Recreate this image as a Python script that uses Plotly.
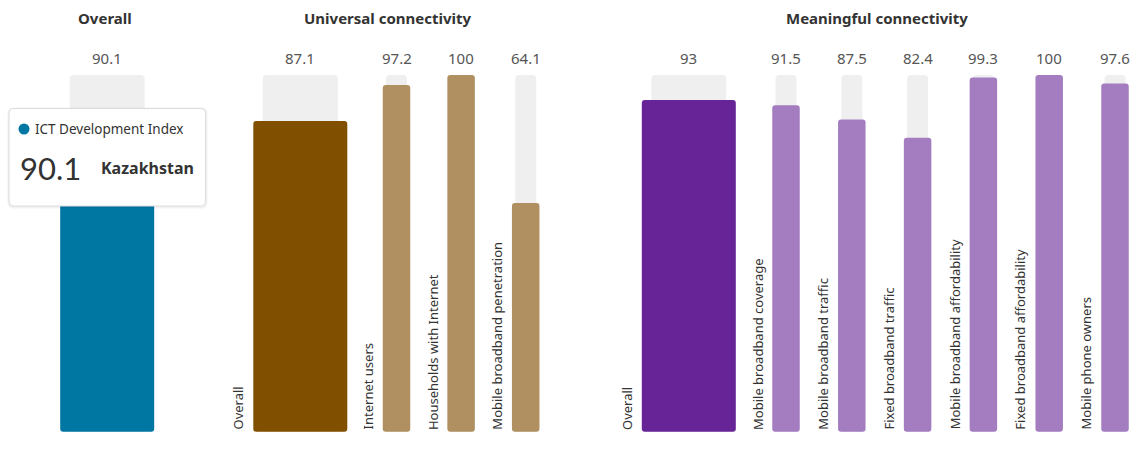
import plotly.graph_objects as go

# ---- data -------------------------------------------------------------
group_titles = ["Overall", "Universal connectivity", "Meaningful connectivity"]

index_name = "ICT Development Index"
country = "Kazakhstan"
overall_value = [90.1]

universal_labels = ["Overall", "Internet users", "Households with Internet",
                    "Mobile broadband penetration"]
universal_values = [87.1, 97.2, 100, 64.1]

meaningful_labels = ["Overall", "Mobile broadband coverage", "Mobile broadband traffic",
                     "Fixed broadband traffic", "Mobile broadband affordability",
                     "Fixed broadband affordability", "Mobile phone owners"]
meaningful_values = [93, 91.5, 87.5, 82.4, 99.3, 100, 97.6]

max_score = 100

# ---- layout constants (pixel based x axis) ---------------------------
W, H = 1134, 450
BASE_PX = 431.7            # pixel row of score 0
UNIT = (BASE_PX - 75) / max_score   # pixels per score point

WIDE_W, WIDE_BG_W = 94, 75
NARROW_W, NARROW_BG_W = 27.5, 21

OVERALL_CX = 107.2
UNI_WIDE_CX, UNI_START, UNI_PITCH = 300.3, 396.5, 64.6
MEAN_WIDE_CX, MEAN_START, MEAN_PITCH = 688.8, 786.0, 65.8

C_BLUE = "#0077a3"
C_UNI_DARK, C_UNI_LIGHT = "#804f00", "#b09060"
C_MEAN_DARK, C_MEAN_LIGHT = "#662496", "#a47dc1"
C_TRACK = "#efefef"
FONT = "'Noto Sans', Lato, sans-serif"
FONT_NUM = "Lato, 'Noto Sans', sans-serif"


def centers(wide_cx, start, pitch, n):
    return [wide_cx] + [start + i * pitch for i in range(n - 1)]


uni_cx = centers(UNI_WIDE_CX, UNI_START, UNI_PITCH, len(universal_values))
mean_cx = centers(MEAN_WIDE_CX, MEAN_START, MEAN_PITCH, len(meaningful_values))

# every bar: (center, value, bar width, track width, colour, label)
bars = [(OVERALL_CX, overall_value[0], WIDE_W, WIDE_BG_W, C_BLUE, None)]
for i, (cx, v, lab) in enumerate(zip(uni_cx, universal_values, universal_labels)):
    wide = i == 0
    bars.append((cx, v, WIDE_W if wide else NARROW_W, WIDE_BG_W if wide else NARROW_BG_W,
                 C_UNI_DARK if wide else C_UNI_LIGHT, lab))
for i, (cx, v, lab) in enumerate(zip(mean_cx, meaningful_values, meaningful_labels)):
    wide = i == 0
    bars.append((cx, v, WIDE_W if wide else NARROW_W, WIDE_BG_W if wide else NARROW_BG_W,
                 C_MEAN_DARK if wide else C_MEAN_LIGHT, lab))

fig = go.Figure()

# grey tracks up to the maximum score
fig.add_trace(go.Bar(
    x=[b[0] for b in bars], y=[max_score] * len(bars), width=[b[3] for b in bars],
    marker=dict(color=C_TRACK, line_width=0, cornerradius=4),
))

# coloured score bars, drawn from the top down so the rounded end sits at the base
fig.add_trace(go.Bar(
    x=[b[0] for b in bars], y=[-b[1] for b in bars], base=[b[1] for b in bars],
    width=[b[2] for b in bars],
    marker=dict(color=[b[4] for b in bars], line_width=0, cornerradius=3),
))

annotations = []

# value labels above each track, category labels rotated beside each bar
for cx, v, w, bw, col, lab in bars:
    annotations.append(dict(
        x=cx, y=max_score, yshift=17, text=f"{v:g}", showarrow=False,
        xanchor="center", yanchor="middle",
        font=dict(family=FONT, size=15, color="#555555"),
    ))
    if lab:
        annotations.append(dict(
            x=cx - w / 2, y=0, xshift=-4, text=lab, showarrow=False, textangle=-90,
            xanchor="right", yanchor="bottom",
            font=dict(family=FONT, size=13, color="#333333"),
        ))

# group titles
title_cx = [105, 388, 877]
for t, cx in zip(group_titles, title_cx):
    annotations.append(dict(
        x=cx, xref="x", y=1 - 18 / H, yref="paper", text=f"<b>{t}</b>", showarrow=False,
        xanchor="center", yanchor="middle",
        font=dict(family=FONT, size=15, color="#333333"),
    ))


# ---- tooltip card over the overall bar -------------------------------
def px(x):
    return x / W


def py(y):
    return 1 - y / H


def rounded_rect(x0, y0, x1, y1, r):
    pts = [
        f"M {px(x0 + r)} {py(y0)}",
        f"L {px(x1 - r)} {py(y0)}",
        f"Q {px(x1)} {py(y0)} {px(x1)} {py(y0 + r)}",
        f"L {px(x1)} {py(y1 - r)}",
        f"Q {px(x1)} {py(y1)} {px(x1 - r)} {py(y1)}",
        f"L {px(x0 + r)} {py(y1)}",
        f"Q {px(x0)} {py(y1)} {px(x0)} {py(y1 - r)}",
        f"L {px(x0)} {py(y0 + r)}",
        f"Q {px(x0)} {py(y0)} {px(x0 + r)} {py(y0)}",
        "Z",
    ]
    return " ".join(pts)


shapes = [
    dict(type="path", xref="paper", yref="paper", layer="above",
         path=rounded_rect(7.5, 107.5, 207.5, 208.5, 6),
         fillcolor="rgba(0,0,0,0.05)", line_width=0),
    dict(type="path", xref="paper", yref="paper", layer="above",
         path=rounded_rect(9, 108.5, 205.5, 206, 5),
         fillcolor="white", line=dict(color="#dcdcdc", width=1)),
    dict(type="circle", xref="paper", yref="paper", layer="above",
         x0=px(18.5), x1=px(29.5), y0=py(134.5), y1=py(123.5),
         fillcolor=C_BLUE, line_width=0),
]

annotations += [
    dict(x=px(33), y=py(129), xref="paper", yref="paper", text=index_name,
         showarrow=False, xanchor="left", yanchor="middle",
         font=dict(family=FONT, size=13.5, color="#333333")),
    dict(x=px(18), y=py(168), xref="paper", yref="paper", text=f"{overall_value[0]:g}",
         showarrow=False, xanchor="left", yanchor="middle",
         font=dict(family=FONT_NUM, size=31, color="#333333")),
    dict(x=px(99), y=py(168), xref="paper", yref="paper", text=f"<b>{country}</b>",
         showarrow=False, xanchor="left", yanchor="middle",
         font=dict(family=FONT, size=16, color="#333333")),
]

fig.update_layout(
    width=W, height=H, margin=dict(l=0, r=0, t=0, b=0),
    paper_bgcolor="white", plot_bgcolor="white",
    barmode="overlay", showlegend=False, hovermode=False,
    xaxis=dict(range=[0, W], visible=False, fixedrange=True),
    yaxis=dict(range=[-(H - BASE_PX) / UNIT, BASE_PX / UNIT], visible=False, fixedrange=True),
    annotations=annotations, shapes=shapes,
)

fig.write_html("out.html", config={"displayModeBar": False})
